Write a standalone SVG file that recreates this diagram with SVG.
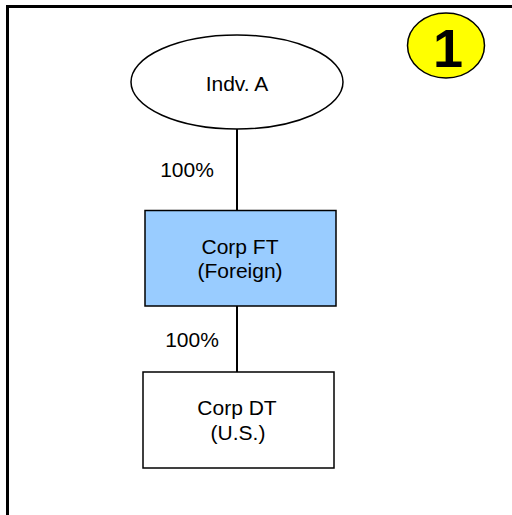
<svg xmlns="http://www.w3.org/2000/svg" width="512" height="515" viewBox="0 0 512 515">
<style>
.t{font-family:"Liberation Sans",Arial,sans-serif;font-size:21px;fill:#000;text-anchor:middle}
.n{stroke:#000;stroke-width:1.5}
.c{stroke:#000;stroke-width:2;fill:none}
</style>
<rect x="0" y="0" width="512" height="515" fill="#fff"/>
<path d="M7.5,515 V6.5 H512" fill="none" stroke="#000" stroke-width="3"/>
<g id="badge">
<ellipse cx="446" cy="45.5" rx="38.5" ry="32.5" fill="#ffff00" stroke="#000" stroke-width="1.5"/>
<text x="448" y="67" style="font-family:'Liberation Sans',Arial,sans-serif;font-size:54px;font-weight:bold;text-anchor:middle">1</text>
</g>
<g id="connectors">
<line class="c" x1="237" y1="129" x2="237" y2="210"/>
<line class="c" x1="237" y1="306" x2="237" y2="372"/>
<text class="t" x="187" y="177">100%</text>
<text class="t" x="192" y="347">100%</text>
</g>
<g id="indvA">
<ellipse class="n" cx="237" cy="82" rx="106" ry="47" fill="#fff"/>
<text class="t" x="237" y="91">Indv. A</text>
</g>
<g id="corpFT">
<rect class="n" x="145" y="210.5" width="191" height="95.5" fill="#99ccff"/>
<text class="t" x="240" y="254">Corp FT</text>
<text class="t" x="240" y="278">(Foreign)</text>
</g>
<g id="corpDT">
<rect class="n" x="143" y="372" width="191" height="96" fill="#fff"/>
<text class="t" x="237" y="415">Corp DT</text>
<text class="t" x="238" y="440">(U.S.)</text>
</g>
</svg>
